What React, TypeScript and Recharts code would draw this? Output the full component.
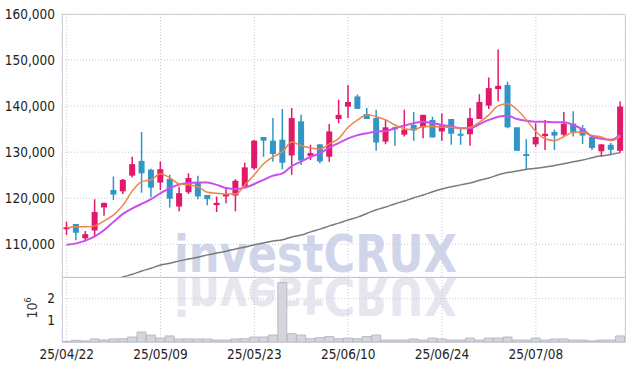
import { ComposedChart, Bar, Line, XAxis, YAxis, CartesianGrid } from 'recharts';

const dates = [
  '25/04/22', '25/04/23', '25/04/24', '25/04/25', '25/04/28', '25/04/29', '25/04/30', '25/05/02', '25/05/07', '25/05/08',
  '25/05/09', '25/05/12', '25/05/13', '25/05/14', '25/05/15', '25/05/16', '25/05/19', '25/05/20', '25/05/21', '25/05/22',
  '25/05/23', '25/05/26', '25/05/27', '25/05/28', '25/05/29', '25/05/30', '25/06/02', '25/06/04', '25/06/05', '25/06/09',
  '25/06/10', '25/06/11', '25/06/12', '25/06/13', '25/06/16', '25/06/17', '25/06/18', '25/06/19', '25/06/20', '25/06/23',
  '25/06/24', '25/06/25', '25/06/26', '25/06/27', '25/06/30', '25/07/01', '25/07/02', '25/07/03', '25/07/04', '25/07/07',
  '25/07/08', '25/07/09', '25/07/10', '25/07/11', '25/07/14', '25/07/15', '25/07/16', '25/07/17', '25/07/18', '25/07/21',
];

const opens = [
  113500, 114400, 111300, 113000, 118000, 121800, 121500, 124900, 128100, 126200,
  123400, 124200, 118200, 121300, 123500, 120700, 118500, 120400, 120600, 122500,
  126500, 133300, 132500, 132700, 129300, 136700, 129200, 131700, 129000, 137200,
  139900, 142100, 138300, 137400, 132300, 135400, 133800, 135900, 135400, 137000,
  134500, 137200, 134000, 133900, 137200, 140100, 143700, 144600, 135400, 129600,
  131700, 133500, 134400, 133800, 136200, 135200, 133300, 130200, 131600, 130300,
];
const highs = [
  114900, 114400, 112900, 119800, 119000, 124700, 124200, 129000, 134400, 126400,
  128000, 125100, 122500, 125400, 124900, 120700, 120400, 122200, 124100, 127700,
  132700, 133300, 137400, 139400, 139600, 138100, 131600, 131700, 136100, 141400,
  144600, 142500, 139600, 139200, 137000, 135600, 139200, 138700, 138100, 137700,
  138400, 137200, 135200, 139600, 142600, 146200, 152300, 145300, 135400, 132800,
  136300, 137000, 134900, 138700, 138900, 135900, 133300, 131700, 132000, 141000,
];
const lows = [
  112000, 110900, 110800, 111800, 116200, 119600, 120900, 124500, 121200, 120200,
  121800, 118000, 117200, 120900, 119800, 118500, 117000, 118900, 117200, 122200,
  126200, 129000, 127900, 126300, 125100, 127200, 128300, 127600, 127900, 136300,
  137400, 139400, 137200, 130300, 131700, 131400, 133400, 132500, 133000, 133200,
  132500, 131600, 131600, 131400, 137200, 139400, 141000, 135200, 130300, 126300,
  131100, 130500, 130500, 133400, 133400, 131800, 130500, 129000, 129600, 129800,
];
const closes = [
  113700, 112500, 112200, 117000, 119000, 120800, 124000, 127400, 125400, 122300,
  126300, 119900, 121100, 124400, 120400, 119800, 119000, 120900, 123800, 126700,
  132500, 132500, 129600, 127700, 137400, 128200, 129800, 128000, 134500, 138100,
  140900, 139400, 137200, 132100, 135400, 135100, 134900, 134700, 138100, 133200,
  135800, 134000, 133600, 137400, 140900, 143900, 144400, 135400, 130300, 129300,
  133300, 134000, 133600, 136200, 134400, 133600, 130900, 131700, 130500, 139900,
];
const volumes = [
  30000, 80000, 50000, 140000, 90000, 140000, 150000, 230000, 460000, 320000,
  180000, 280000, 140000, 140000, 140000, 140000, 90000, 90000, 140000, 150000,
  230000, 230000, 320000, 2740000, 380000, 320000, 150000, 200000, 250000, 150000,
  180000, 150000, 250000, 320000, 90000, 90000, 90000, 140000, 90000, 180000,
  140000, 90000, 90000, 180000, 90000, 180000, 180000, 230000, 90000, 90000,
  180000, 90000, 140000, 140000, 90000, 90000, 50000, 90000, 90000, 280000,
];
const maShort = [
  113600, 113800, 113800, 114000, 115100, 116400, 118500, 121600, 123600, 124000,
  125300, 124400, 123100, 122900, 122500, 121300, 121100, 120900, 120900, 122900,
  125100, 127500, 129000, 130100, 132200, 131400, 130900, 130700, 131800, 133000,
  135400, 137000, 138100, 137700, 137000, 135900, 135100, 134900, 135600, 135600,
  135400, 135400, 135200, 135400, 136500, 138100, 140100, 140500, 139200, 137000,
  134500, 132900, 132500, 133400, 134300, 134300, 133600, 133300, 132500, 133400,
];
const maMid = [
  109900, 110200, 110800, 111700, 113100, 114900, 116600, 117800, 118800, 119800,
  121100, 122200, 123000, 123300, 123400, 123400, 122900, 122200, 122000, 122300,
  123100, 124000, 124900, 125400, 127000, 128000, 129000, 129800, 131000, 132000,
  133000, 133700, 134100, 134500, 134600, 135200, 135800, 136300, 136600, 136300,
  135900, 135600, 135200, 135200, 136100, 137000, 137700, 137900, 137200, 136800,
  136600, 136600, 136500, 136500, 135900, 134900, 133400, 132900, 132700, 133800,
];
const maLong = [
  null, null, null, null, null, 102200, 102900, 103500, 104200, 104800,
  105500, 105900, 106400, 106800, 107200, 107700, 108100, 108500, 109000, 109400,
  109900, 110300, 110700, 111000, 111600, 112000, 112700, 113300, 114000, 114600,
  115300, 115900, 116700, 117500, 118100, 118800, 119400, 120100, 120700, 121400,
  122000, 122500, 122900, 123300, 123900, 124400, 125100, 125600, 125900, 126300,
  126500, 126800, 127100, 127500, 127900, 128300, 128800, 129200, 129500, 129900,
];

const dateTicks = ['25/04/22', '25/05/09', '25/05/23', '25/06/10', '25/06/24', '25/07/08'];
const priceTicks = [110000, 120000, 130000, 140000, 150000, 160000];
const volumeTicks = [1000000, 2000000];

const RED = '#e2196b';
const BLUE = '#3196c6';
const GRID = '#c9c9de';
const FONT = "'DejaVu Sans Condensed', 'DejaVu Sans', sans-serif";
const MARK_FONT = "'DejaVu Sans', sans-serif";

const data = dates.map((date, i) => ({
  date,
  open: opens[i],
  high: highs[i],
  low: lows[i],
  close: closes[i],
  volume: volumes[i],
  maShort: maShort[i],
  maMid: maMid[i],
  maLong: maLong[i],
}));

function Candle(props: any) {
  const { x, y, width, height, payload } = props;
  const { open, close, high, low } = payload;
  const top = Math.min(y, y + height);
  const h = Math.abs(height);
  const span = high - low || 1;
  const py = (v: number) => top + ((high - v) / span) * h;
  const color = close >= open ? RED : BLUE;
  const cx = x + width / 2;
  const bodyTop = py(Math.max(open, close));
  const bodyBot = py(Math.min(open, close));
  const bw = 6;
  return (
    <g>
      <line x1={cx} x2={cx} y1={top} y2={top + h} stroke={color} strokeWidth={1.5} />
      <rect x={cx - bw / 2} y={bodyTop} width={bw} height={Math.max(bodyBot - bodyTop, 2)} fill={color} />
    </g>
  );
}

const tickStyle = { fill: '#222', fontSize: 13.5, fontFamily: FONT };

export default function App() {
  return (
    <div style={{ position: 'absolute', left: 0, top: 0, width: 634, height: 371, background: '#fff' }}>
      {/* watermark and its reflection */}
      <svg width={634} height={371} style={{ position: 'absolute', left: 0, top: 0 }}>
        <text x={174} y={272} fontSize={52} fontWeight="bold" fill="#d0d5e9" fontFamily={MARK_FONT}
          textLength={283} lengthAdjust="spacingAndGlyphs">investCRUX</text>
        <g transform="translate(0,550) scale(1,-1)">
          <text x={174} y={272} fontSize={52} fontWeight="bold" fill="#e6e6ef" fontFamily={MARK_FONT}
            textLength={283} lengthAdjust="spacingAndGlyphs">investCRUX</text>
        </g>
        <text transform="rotate(-90, 37, 308)" x={37} y={308} textAnchor="middle" fontSize={14} fill="#333" fontFamily={FONT}>
          10<tspan dy={-6} fontSize={9}>6</tspan>
        </text>
      </svg>

      <div style={{ position: 'absolute', left: 0, top: 0 }}>
        <ComposedChart width={634} height={277} data={data} margin={{ top: 14, right: 9, left: 0, bottom: 0 }} barCategoryGap={0}>
          <CartesianGrid stroke={GRID} strokeDasharray="1 2" />
          <XAxis dataKey="date" hide ticks={dateTicks} interval={0} />
          <YAxis
            domain={[102900, 160000]}
            ticks={priceTicks}
            allowDataOverflow
            width={62}
            axisLine={false}
            tickLine={false}
            tickSize={0}
            tickMargin={7}
            tick={tickStyle}
            tickFormatter={(v: number) => v.toLocaleString('en-US')}
          />
          <Line dataKey="maLong" stroke="#7a7a7a" strokeWidth={1.5} dot={false} type="monotone" isAnimationActive={false} />
          <Line dataKey="maMid" stroke="#cb4fec" strokeWidth={2} dot={false} type="monotone" isAnimationActive={false} />
          <Line dataKey="maShort" stroke="#ee8447" strokeWidth={1.5} dot={false} type="monotone" isAnimationActive={false} />
          <Bar dataKey={(d: any) => [d.low, d.high]} shape={Candle} isAnimationActive={false} />
        </ComposedChart>
      </div>

      <div style={{ position: 'absolute', left: 0, top: 277 }}>
        <ComposedChart width={634} height={94} data={data} margin={{ top: 0, right: 9, left: 0, bottom: 0 }} barCategoryGap={0}>
          <CartesianGrid stroke={GRID} strokeDasharray="1 2" />
          <XAxis
            dataKey="date"
            ticks={dateTicks}
            interval={0}
            height={29}
            axisLine={false}
            tickLine={false}
            tickSize={0}
            tickMargin={7}
            tick={tickStyle}
          />
          <YAxis
            domain={[0, 3000000]}
            ticks={volumeTicks}
            width={62}
            axisLine={false}
            tickLine={false}
            tickSize={0}
            tickMargin={7}
            tick={tickStyle}
            tickFormatter={(v: number) => String(v / 1000000)}
          />
          <Bar dataKey="volume" fill="#d5d5dc" stroke="#b9b9c3" strokeWidth={1} isAnimationActive={false} />
        </ComposedChart>
      </div>

      {/* plot frame and panel divider */}
      <div style={{ position: 'absolute', left: 62, top: 14, width: 564, height: 329, boxSizing: 'border-box', border: '1px solid #cfcfdc', pointerEvents: 'none' }} />
      <div style={{ position: 'absolute', left: 62, top: 277, width: 564, height: 1, background: '#c4c4cc', pointerEvents: 'none' }} />
    </div>
  );
}
